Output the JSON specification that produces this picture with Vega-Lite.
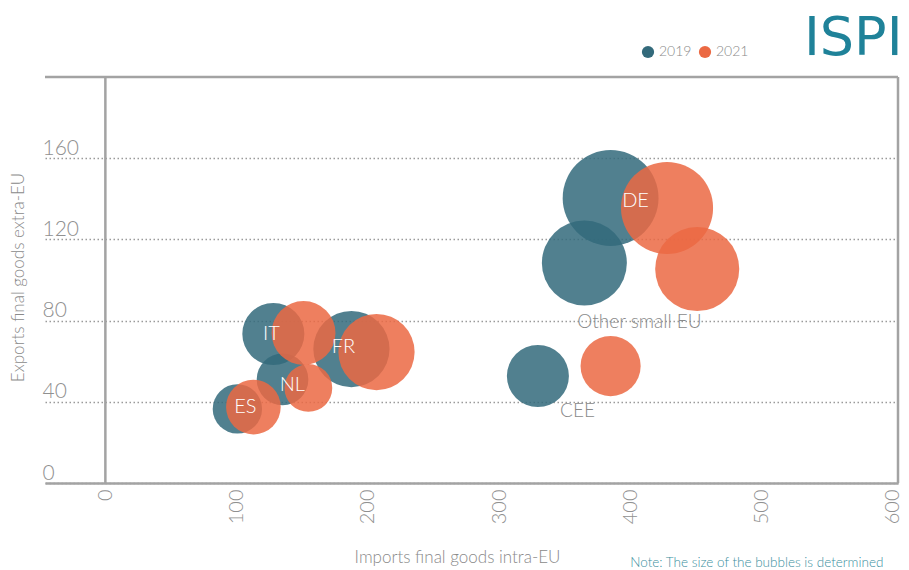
{
  "$schema": "https://vega.github.io/schema/vega-lite/v6.json",
  "width": 853,
  "height": 406,
  "autosize": {"type": "none"},
  "padding": {"left": 45, "top": 77, "right": 11, "bottom": 87},
  "background": "white",
  "config": {"view": {"stroke": null}, "font": "Lato"},
  "datasets": {
    "bubbles": [
      {"country": "IT", "year": "2019", "imports": 128, "exports": 73.4, "total": 49},
      {"country": "FR", "year": "2019", "imports": 187.5, "exports": 66, "total": 74},
      {"country": "NL", "year": "2019", "imports": 135, "exports": 51, "total": 34},
      {"country": "ES", "year": "2019", "imports": 100.6, "exports": 36.5, "total": 31},
      {"country": "DE", "year": "2019", "imports": 385, "exports": 140.4, "total": 117},
      {"country": "Other small EU", "year": "2019", "imports": 365, "exports": 108.4, "total": 92},
      {"country": "CEE", "year": "2019", "imports": 329.6, "exports": 52.7, "total": 49},
      {"country": "IT", "year": "2021", "imports": 151, "exports": 73.9, "total": 52},
      {"country": "FR", "year": "2021", "imports": 206.6, "exports": 64.5, "total": 74},
      {"country": "NL", "year": "2021", "imports": 154.7, "exports": 46.8, "total": 29},
      {"country": "ES", "year": "2021", "imports": 112.8, "exports": 37.4, "total": 38},
      {"country": "DE", "year": "2021", "imports": 428, "exports": 135.5, "total": 108},
      {"country": "Other small EU", "year": "2021", "imports": 451, "exports": 105.4, "total": 90},
      {"country": "CEE", "year": "2021", "imports": 385, "exports": 57.6, "total": 46}
    ],
    "labels": [
      {"label": "IT", "kind": "inside", "lx": 126.5, "ly": 73.5},
      {"label": "FR", "kind": "inside", "lx": 181.4, "ly": 67},
      {"label": "NL", "kind": "inside", "lx": 142.5, "ly": 48.3},
      {"label": "ES", "kind": "inside", "lx": 106.7, "ly": 37.4},
      {"label": "DE", "kind": "inside", "lx": 404, "ly": 138.9},
      {"label": "Other small EU", "kind": "outside", "lx": 407, "ly": 79.3},
      {"label": "CEE", "kind": "outside", "lx": 359.8, "ly": 35.5}
    ],
    "one": [{}]
  },
  "layer": [
    {
      "data": {"name": "bubbles"},
      "mark": {"type": "circle", "opacity": 0.85},
      "encoding": {
        "x": {
          "field": "imports", "type": "quantitative",
          "scale": {"domain": [-46, 604], "nice": false, "zero": false},
          "axis": {
            "title": "Imports final goods intra-EU",
            "values": [0, 100, 200, 300, 400, 500, 600],
            "grid": false, "ticks": false,
            "domainColor": "#a3a3a3", "domainWidth": 2.5,
            "labelAngle": -90, "labelAlign": "right", "labelBaseline": "middle",
            "labelFontSize": 20, "labelColor": "#909090", "labelFontWeight": 300, "labelPadding": 6,
            "titleFontSize": 17, "titleColor": "#8a8a8a", "titleFontWeight": 300,
            "titleX": 412, "titleY": 74, "titleAnchor": null, "titleAlign": "center", "titleBaseline": "middle"
          }
        },
        "y": {
          "field": "exports", "type": "quantitative",
          "scale": {"domain": [0, 200], "nice": false},
          "axis": {
            "title": "Exports final goods extra-EU",
            "values": [0, 40, 80, 120, 160],
            "domain": false, "ticks": false, "tickSize": 0,
            "grid": true, "gridColor": "#9a9a9a", "gridDash": [1.5, 2.5], "gridWidth": 1.5,
            "labelAlign": "left", "labelBaseline": "alphabetic", "labelOffset": -4, "labelPadding": 3,
            "labelFontSize": 21, "labelColor": "#909090", "labelFontWeight": 300,
            "titleFontSize": 17, "titleColor": "#8a8a8a", "titleFontWeight": 300,
            "titleX": -27, "titleY": 200, "titleAngle": -90, "titleAlign": "center", "titleBaseline": "middle"
          }
        },
        "size": {
          "field": "total", "type": "quantitative",
          "scale": {"domain": [0, 120], "range": [0, 9425], "zero": true},
          "legend": null
        },
        "color": {
          "field": "year", "type": "nominal",
          "scale": {"domain": ["2019", "2021"], "range": ["#336a7b", "#eb6943"]},
          "legend": {
            "title": null, "orient": "none", "direction": "horizontal",
            "legendX": 596, "legendY": -32,
            "symbolType": "circle", "symbolSize": 150, "symbolOpacity": 1,
            "labelFontSize": 14, "labelColor": "#8a8a8a", "labelFontWeight": 300,
            "labelOffset": 4, "columnPadding": 6
          }
        }
      }
    },
    {
      "data": {"name": "one"},
      "mark": {"type": "rule", "color": "#a3a3a3", "strokeWidth": 2.5},
      "encoding": {
        "x": {"datum": 0, "type": "quantitative"},
        "y": {"datum": 0, "type": "quantitative"},
        "y2": {"datum": 200}
      }
    },
    {
      "data": {"name": "one"},
      "mark": {"type": "rule", "color": "#a3a3a3", "strokeWidth": 2.5},
      "encoding": {
        "x": {"datum": -46, "type": "quantitative"},
        "x2": {"datum": 604},
        "y": {"datum": 200, "type": "quantitative"}
      }
    },
    {
      "data": {"name": "one"},
      "mark": {"type": "rule", "color": "#a3a3a3", "strokeWidth": 2.5},
      "encoding": {
        "x": {"datum": 604, "type": "quantitative"},
        "y": {"datum": 0, "type": "quantitative"},
        "y2": {"datum": 200}
      }
    },
    {
      "data": {"name": "labels"},
      "transform": [{"filter": "datum.kind === 'inside'"}],
      "mark": {"type": "text", "color": "#ffffff", "fontSize": 20, "fontWeight": 300, "align": "center", "baseline": "middle"},
      "encoding": {
        "x": {"field": "lx", "type": "quantitative"},
        "y": {"field": "ly", "type": "quantitative"},
        "text": {"field": "label"}
      }
    },
    {
      "data": {"name": "labels"},
      "transform": [{"filter": "datum.kind === 'outside'"}],
      "mark": {"type": "text", "color": "#8a8a8a", "fontSize": 19, "fontWeight": 300, "align": "center", "baseline": "middle"},
      "encoding": {
        "x": {"field": "lx", "type": "quantitative"},
        "y": {"field": "ly", "type": "quantitative"},
        "text": {"field": "label"}
      }
    },
    {
      "data": {"name": "one"},
      "mark": {"type": "text", "text": "ISPI", "color": "#1f8299", "font": "DejaVu Sans", "fontSize": 54, "fontWeight": "normal", "align": "right", "baseline": "middle"},
      "encoding": {
        "x": {"datum": 607.5, "type": "quantitative"},
        "y": {"datum": 218.5, "type": "quantitative"}
      }
    },
    {
      "data": {"name": "one"},
      "mark": {"type": "text", "text": "Note: The size of the bubbles is determined", "color": "#3a8fa0", "fontSize": 13.5, "fontWeight": 300, "align": "left", "baseline": "alphabetic"},
      "encoding": {
        "x": {"datum": 400, "type": "quantitative"},
        "y": {"datum": -41.5, "type": "quantitative"}
      }
    }
  ]
}
